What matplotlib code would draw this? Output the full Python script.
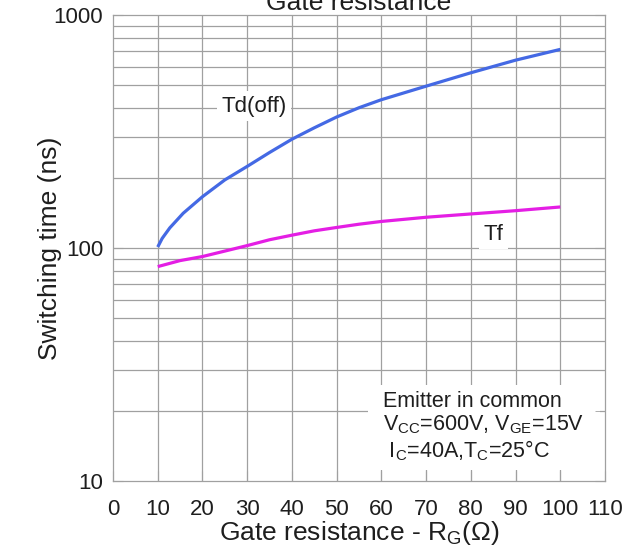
import numpy as np
import matplotlib.pyplot as plt
from matplotlib.patches import Rectangle
from matplotlib.ticker import FixedLocator, NullFormatter

plt.rcParams['font.family'] = ['Liberation Sans', 'DejaVu Sans']
plt.rcParams['mathtext.fontset'] = 'custom'
plt.rcParams['mathtext.rm'] = 'Liberation Sans'

# switching time vs gate resistance
rg_td = [10, 11, 12.7, 15.7, 20, 25, 30, 35, 40, 45, 50, 55, 60, 70, 80, 90, 100]
td_off = [101, 110, 122, 141, 166, 196, 224, 257, 293, 328, 365, 400, 433, 495, 565, 640, 712]
rg_tf = [10, 15, 20, 25, 30, 35, 40, 45, 50, 55, 60, 70, 80, 90, 100]
tf = [83.2, 88.3, 91.9, 97, 102.4, 108.5, 113.5, 118.5, 122.5, 126.5, 130, 135.5, 140, 144.6, 150]

x_ticks = list(range(0, 111, 10))
y_ticks = [10, 100, 1000]

grid_c = '#a0a0a0'
text_c = '#1e1e1e'

fig = plt.figure(figsize=(6.42, 5.48), dpi=100)
ax = fig.add_axes([0.176, 0.1223, 0.7664, 0.8503])

ax.set_yscale('log')
ax.set_xlim(0, 110)
ax.set_ylim(10, 1000)

minor_y = [m * 10 ** d for d in (1, 2) for m in range(2, 10)]
ax.yaxis.set_minor_locator(FixedLocator(minor_y))
ax.yaxis.set_minor_formatter(NullFormatter())
ax.set_yticks(y_ticks)
ax.set_yticklabels([str(v) for v in y_ticks])
ax.set_xticks(x_ticks)
ax.set_xticklabels([str(v) for v in x_ticks])

for x in x_ticks[1:-1]:
    ax.axvline(x, color=grid_c, lw=0.9, zorder=1)
for y in minor_y + [100]:
    ax.axhline(y, color=grid_c, lw=0.9, zorder=1)

ax.set_axisbelow(False)
ax.tick_params(axis='x', which='major', direction='in', labelsize=16,
               length=7, color=grid_c, pad=13, labelcolor=text_c)
ax.tick_params(axis='y', which='major', direction='in', labelsize=16,
               length=7, color=grid_c, pad=7, labelcolor=text_c, right=True)
ax.tick_params(axis='y', which='minor', direction='in', length=7,
               color=grid_c, left=False, right=True)
for s in ax.spines.values():
    s.set_color(grid_c)
    s.set_linewidth(0.9)

ax.plot(rg_td, td_off, color='#4469e4', lw=2.3, zorder=4,
        solid_capstyle='butt')
ax.plot(rg_tf, tf, color='#e41ee4', lw=2.3, zorder=4,
        solid_capstyle='butt')

box = dict(facecolor='white', edgecolor='none', pad=3)
ax.text(31.6, 406, 'Td(off)', fontsize=16, color=text_c, ha='center',
        va='center', bbox=box, zorder=2)
ax.text(85.1, 114, 'Tf', fontsize=16, color=text_c, ha='center',
        va='center', bbox=box, zorder=2)

# white panel behind the test conditions
ax.add_patch(Rectangle((57.1, 11.1), 51.7, 14.7, facecolor='white',
                       edgecolor='none', zorder=2))
ax.text(60.3, 24.3,
        'Emitter in common\n'
        r'V$_{\mathregular{CC}}$=600V, V$_{\mathregular{GE}}$=15V' '\n'
        r' I$_{\mathregular{C}}$=40A,T$_{\mathregular{C}}$=25°C',
        fontsize=15.5, color=text_c, ha='left', va='top', linespacing=1.1,
        zorder=3)

ax.set_xlabel('Gate resistance - R$_{\\mathregular{G}}$(Ω)', fontsize=19,
              color=text_c, labelpad=-1)
ax.set_ylabel('Switching time (ns)', fontsize=19, color=text_c,
              labelpad=-6)
ax.set_title('Gate resistance', fontsize=19, color=text_c, pad=1.5)

fig.savefig('out.png', dpi=100)
